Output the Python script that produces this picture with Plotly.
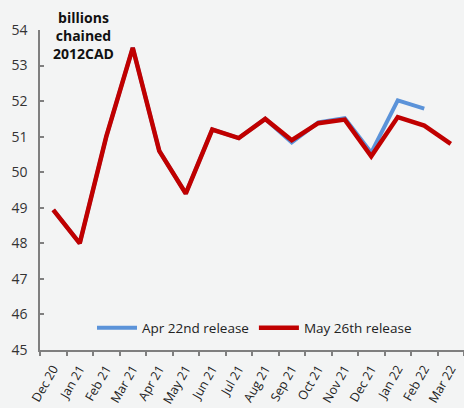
import plotly.graph_objects as go

months = ["Dec 20", "Jan 21", "Feb 21", "Mar 21", "Apr 21", "May 21", "Jun 21", "Jul 21",
          "Aug 21", "Sep 21", "Oct 21", "Nov 21", "Dec 21", "Jan 22", "Feb 22", "Mar 22"]
apr_release = [48.94, 48.0, 51.0, 53.5, 50.6, 49.4, 51.2, 50.96, 51.5, 50.84, 51.4, 51.52,
               50.55, 52.02, 51.79, None]
may_release = [48.94, 48.0, 51.0, 53.5, 50.6, 49.4, 51.2, 50.96, 51.5, 50.9, 51.38, 51.48,
               50.45, 51.55, 51.31, 50.8]
y_ticks = [45, 46, 47, 48, 49, 50, 51, 52, 53, 54]

BG = "#f3f4f4"

fig = go.Figure()
fig.add_trace(go.Scatter(x=months, y=apr_release, mode="lines", name="Apr 22nd release",
                         line=dict(color="#5b93d9", width=4)))
fig.add_trace(go.Scatter(x=months, y=may_release, mode="lines", name="May 26th release",
                         line=dict(color="#c00000", width=4.5)))

L, T, B = 40, 30, 58
W, H = 464, 408
pw, ph = W - L, H - T - B

fig.update_layout(
    width=W, height=H,
    margin=dict(l=L, r=0, t=T, b=B, autoexpand=False),
    paper_bgcolor=BG, plot_bgcolor=BG,
    font=dict(family="Open Sans, sans-serif", color="#222222"),
    showlegend=True,
    legend=dict(orientation="h", x=(92 - L) / pw, y=1 - (328 - T) / ph, xanchor="left",
                yanchor="middle", bgcolor="rgba(0,0,0,0)", font=dict(size=13.5),
                itemwidth=40, tracegroupgap=0),
    annotations=[dict(text="<b>billions<br>chained<br>2012CAD</b>", xref="paper",
                      x=(83 - L) / pw, yref="paper", y=1 + (T - 6) / ph, showarrow=False,
                      xanchor="center", yanchor="top",
                      font=dict(size=14, color="#111111"))],
)
fig.update_xaxes(range=[-0.5, 15.5], showgrid=False, showline=True, linecolor="#7f7f7f",
                 linewidth=1.5, ticks="outside", ticklen=4, tickcolor="#7f7f7f", tickwidth=1.5,
                 tickson="boundaries", tickangle=-60, tickfont=dict(size=12.5, color="#222222"),
                 ticklabelstandoff=5, zeroline=False, automargin=False)
fig.update_yaxes(range=[45, 54], tickvals=y_ticks, showgrid=False, showline=True,
                 linecolor="#7f7f7f", linewidth=1.5, ticks="inside", ticklen=4, tickwidth=1.5,
                 tickcolor="#7f7f7f", tickfont=dict(size=14, color="#333333"), zeroline=False,
                 ticklabelstandoff=8, automargin=False)

fig.write_html("out.html", config={"displayModeBar": False},
               post_script="document.body.style.margin='0';"
                           "document.body.style.background='" + BG + "';"
                           "document.body.style.overflow='hidden';")
